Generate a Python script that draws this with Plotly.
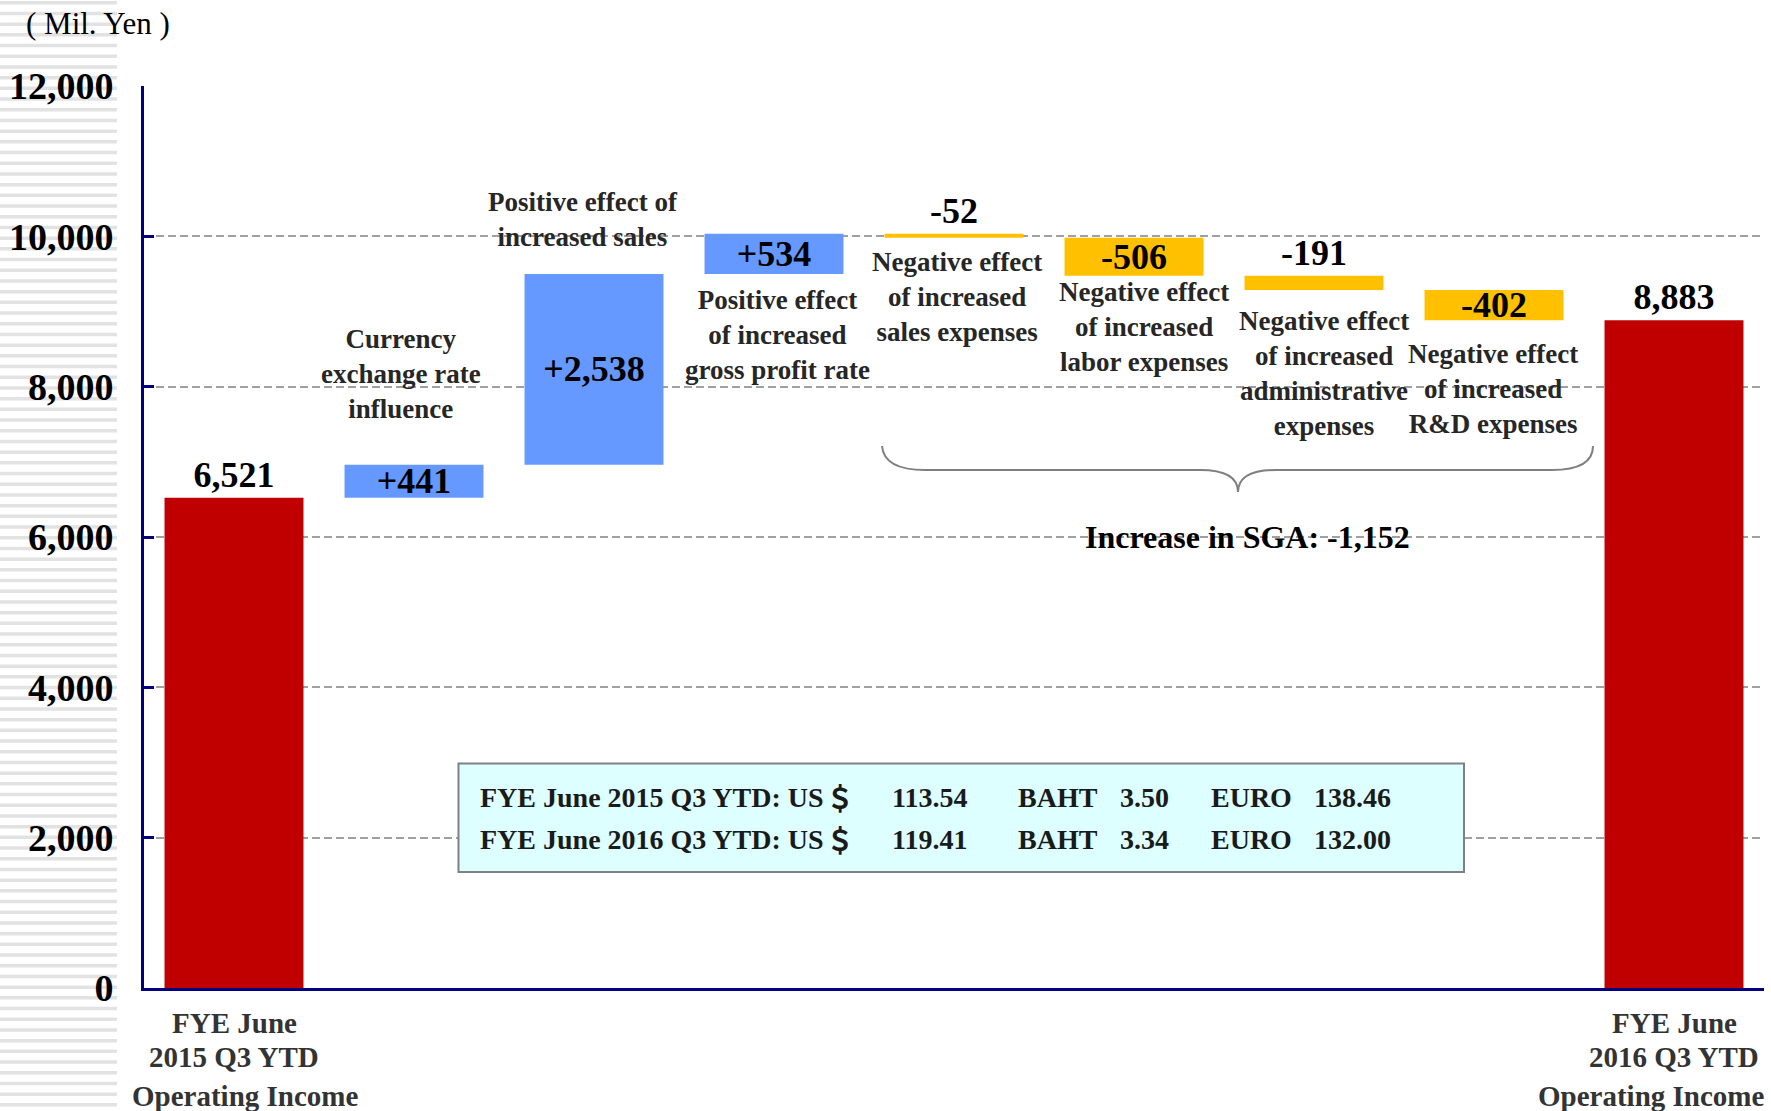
import plotly.graph_objects as go

# ---------------- data ----------------
categories = [
    "FYE June 2015 Q3 YTD Operating Income",
    "Currency exchange rate influence",
    "Positive effect of increased sales",
    "Positive effect of increased gross profit rate",
    "Negative effect of increased sales expenses",
    "Negative effect of increased labor expenses",
    "Negative effect of increased administrative expenses",
    "Negative effect of increased R&D expenses",
    "FYE June 2016 Q3 YTD Operating Income",
]
measures = ["absolute", "relative", "relative", "relative", "relative",
            "relative", "relative", "relative", "total"]
values = [6521, 441, 2538, 534, -52, -506, -191, -402, 8883]
value_labels = ["6,521", "+441", "+2,538", "+534", "-52", "-506", "-191", "-402", "8,883"]
axis_labels = [
    ["FYE June", "2015 Q3 YTD", "Operating Income"],
    None, None, None, None, None, None, None,
    ["FYE June", "2016 Q3 YTD", "Operating Income"],
]
descriptions = [
    None,
    "Currency<br>exchange rate<br>influence",
    "Positive effect of<br>increased sales",
    "Positive effect<br>of increased<br>gross profit rate",
    "Negative effect<br>of increased<br>sales expenses",
    "Negative effect<br>of increased<br>labor expenses",
    "Negative effect<br>of increased<br>administrative<br>expenses",
    "Negative effect<br>of increased<br>R&D expenses",
    None,
]
sga_label = "Increase in SGA: -1,152"
unit_label = "( Mil. Yen )"
y_ticks = [0, 2000, 4000, 6000, 8000, 10000, 12000]

rate_periods = ["FYE June 2015 Q3 YTD: US", "FYE June 2016 Q3 YTD: US"]
usd_rates = ["113.54", "119.41"]
baht_rates = ["3.50", "3.34"]
euro_rates = ["138.46", "132.00"]

# ---------------- layout geometry ----------------
W, H = 1771, 1111
L, R, T, B = 144, 7, 86, 123
PW, PH = W - L - R, H - T - B
FONT = "Liberation Serif"


def px(x):
    return (x - L) / PW


def py(y):
    return (H - B - y) / PH


# ---------------- bars ----------------
RED, BLUE, GOLD = "#C00000", "#6699FF", "#FFC000"
bases, heights, colors, positions = [], [], [], []
running = 0
for m, v in zip(measures, values):
    if m in ("absolute", "total"):
        bases.append(0)
        heights.append(v)
        colors.append(RED)
        running = v
    else:
        if v >= 0:
            bases.append(running)
            heights.append(v)
            colors.append(BLUE)
        else:
            bases.append(running + v)
            heights.append(-v)
            colors.append(GOLD)
        running += v
for h in heights:
    positions.append("outside" if h * PH / 12000 < 30 or h > 5000 else "inside")

idx = list(range(len(categories)))

fig = go.Figure()
fig.add_trace(go.Bar(
    x=idx, y=heights, base=bases, width=0.772,
    marker=dict(color=colors, line=dict(width=0)),
    text=value_labels, textposition=positions, insidetextanchor="middle",
    textfont=dict(family=FONT, size=36, color="black", weight="bold"),
    insidetextfont=dict(family=FONT, size=36, color="black", weight="bold"),
    outsidetextfont=dict(family=FONT, size=36, color="black", weight="bold"),
    cliponaxis=False, hoverinfo="skip", showlegend=False,
    customdata=categories,
))

shapes = []
# decorative striped band at the left edge
y = 0.0
while y < H:
    shapes.append(dict(type="rect", xref="paper", yref="paper",
                       x0=px(0), x1=px(117), y0=py(y + 1), y1=py(y + 4.5),
                       fillcolor="#E2E2E2", line=dict(width=0), layer="below"))
    y += 10.7

# exchange-rate box
shapes.append(dict(type="rect", xref="paper", yref="paper",
                   x0=px(458.5), x1=px(1464), y0=py(872), y1=py(763.5),
                   fillcolor="#DDFFFF", line=dict(color="#808080", width=2),
                   layer="above"))

# curly brace under SGA items
brace_pts = ("M {a},{b} Q {c},{d} {e},{d} L {f},{d} Q {g},{d} {g},{h} "
             "Q {g},{d} {i},{d} L {j},{d} Q {k},{d} {k},{b}")
brace = brace_pts.format(
    a=px(882), b=py(446), c=px(884), d=py(470), e=px(925),
    f=px(1200), g=px(1238), h=py(492), i=px(1276), j=px(1552), k=px(1593))
shapes.append(dict(type="path", xref="paper", yref="paper", path=brace,
                   line=dict(color="#7F7F7F", width=2)))

annotations = []
# unit label
annotations.append(dict(text=unit_label, xref="paper", yref="paper",
                        x=px(98), y=py(23), xanchor="center", yanchor="middle",
                        showarrow=False,
                        font=dict(family=FONT, size=31, color="black")))

# description labels
desc_pos = [None, (401, 374), (583, 219), (777, 335), (957, 297),
            (1144, 327), (1324, 373), (1493, 389), None]
for d, p in zip(descriptions, desc_pos):
    if d is None:
        continue
    annotations.append(dict(text=d, xref="paper", yref="paper",
                            x=px(p[0]), y=py(p[1]), xanchor="center",
                            yanchor="middle", showarrow=False,
                            font=dict(family=FONT, size=27, color="#262626",
                                      weight="bold")))

annotations.append(dict(text=sga_label, xref="paper", yref="paper",
                        x=px(1247), y=py(537), xanchor="center", yanchor="middle",
                        showarrow=False,
                        font=dict(family=FONT, size=32, color="black",
                                  weight="bold")))

# category axis labels
line_y = [1023, 1057, 1096]
for i, lab in enumerate(axis_labels):
    if lab is None:
        continue
    for j, line in enumerate(lab):
        shift = 0
        if j == 2:
            shift = 11 if i == 0 else -23
        annotations.append(dict(text=line, xref="x", yref="paper",
                                x=i, y=py(line_y[j]), xshift=shift,
                                xanchor="center", yanchor="middle",
                                showarrow=False,
                                font=dict(family=FONT, size=29, color="#333333",
                                          weight="bold")))

# exchange-rate box text
row_y = [797, 839]
box_font = dict(family=FONT, size=28, color="#1a1a1a", weight="bold")
for r in range(2):
    cols = [(478, rate_periods[r]), (890, usd_rates[r]), (1016, "BAHT"),
            (1118, baht_rates[r]), (1209, "EURO"), (1312, euro_rates[r])]
    for xpos, txt in cols:
        annotations.append(dict(text=txt, xref="paper", yref="paper",
                                x=px(xpos), y=py(row_y[r]), xanchor="left",
                                yanchor="middle", showarrow=False, font=box_font))
    annotations.append(dict(text="＄", xref="paper", yref="paper",
                            x=px(824), y=py(row_y[r]), xanchor="left",
                            yanchor="middle", showarrow=False,
                            font=dict(family="Noto Sans CJK JP", size=28,
                                      color="#1a1a1a", weight="bold")))

fig.update_layout(
    width=W, height=H,
    margin=dict(l=L, r=R, t=T, b=B, autoexpand=False),
    paper_bgcolor="white", plot_bgcolor="white",
    bargap=0.23,
    shapes=shapes, annotations=annotations,
    uniformtext=dict(minsize=36, mode="show"),
    xaxis=dict(range=[-0.5, 8.5], showticklabels=False, ticks="",
               showgrid=False, zeroline=False, showline=True,
               linecolor="#000080", linewidth=3, fixedrange=True),
    yaxis=dict(range=[0, 12000], tickvals=y_ticks, tickformat=",",
               tickfont=dict(family=FONT, size=38, color="black", weight="bold"),
               showgrid=True, gridcolor="#A0A0A0", gridwidth=2,
               griddash="8px,4px", zeroline=False,
               showline=True, linecolor="#000080", linewidth=3,
               ticks="inside", ticklen=10, tickwidth=3, tickcolor="#000080",
               ticklabelstandoff=20, fixedrange=True),
)

fig.write_html("out.html")
